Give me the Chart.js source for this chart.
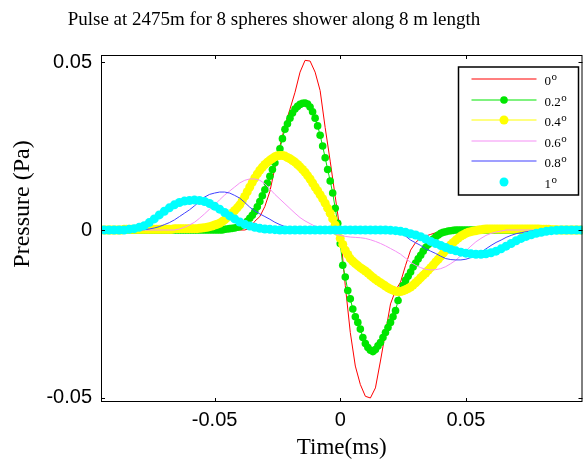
<!DOCTYPE html>
<html>
<head>
<meta charset="utf-8">
<script src="https://cdn.jsdelivr.net/npm/chart.js@4.4.0/dist/chart.umd.min.js"></script>
<style>
  html, body { margin: 0; padding: 0; background: #fff; }
</style>
</head>
<body>
<canvas id="pulse-chart" width="587" height="462"></canvas>
<script>
// Time axis (ms), one sample every 0.002 ms (line-only series)
const timeMs = [
  -0.096, -0.094, -0.092, -0.090, -0.088, -0.086, -0.084, -0.082, -0.080, -0.078,
  -0.076, -0.074, -0.072, -0.070, -0.068, -0.066, -0.064, -0.062, -0.060, -0.058,
  -0.056, -0.054, -0.052, -0.050, -0.048, -0.046, -0.044, -0.042, -0.040, -0.038,
  -0.036, -0.034, -0.032, -0.030, -0.028, -0.026, -0.024, -0.022, -0.020, -0.018,
  -0.016, -0.014, -0.012, -0.010, -0.008, -0.006, -0.004, -0.002, 0, 0.002,
  0.004, 0.006, 0.008, 0.010, 0.012, 0.014, 0.016, 0.018, 0.020, 0.022,
  0.024, 0.026, 0.028, 0.030, 0.032, 0.034, 0.036, 0.038, 0.040, 0.042,
  0.044, 0.046, 0.048, 0.050, 0.052, 0.054, 0.056, 0.058, 0.060, 0.062,
  0.064, 0.066, 0.068, 0.070, 0.072, 0.074, 0.076, 0.078, 0.080, 0.082,
  0.084, 0.086, 0.088, 0.090, 0.092, 0.094, 0.096
];

// Time axis (ms), one sample every 0.001 ms (series drawn with markers)
const timeMsFine = [
  -0.096, -0.095, -0.094, -0.093, -0.092, -0.091, -0.090, -0.089, -0.088, -0.087,
  -0.086, -0.085, -0.084, -0.083, -0.082, -0.081, -0.080, -0.079, -0.078, -0.077,
  -0.076, -0.075, -0.074, -0.073, -0.072, -0.071, -0.070, -0.069, -0.068, -0.067,
  -0.066, -0.065, -0.064, -0.063, -0.062, -0.061, -0.060, -0.059, -0.058, -0.057,
  -0.056, -0.055, -0.054, -0.053, -0.052, -0.051, -0.050, -0.049, -0.048, -0.047,
  -0.046, -0.045, -0.044, -0.043, -0.042, -0.041, -0.040, -0.039, -0.038, -0.037,
  -0.036, -0.035, -0.034, -0.033, -0.032, -0.031, -0.030, -0.029, -0.028, -0.027,
  -0.026, -0.025, -0.024, -0.023, -0.022, -0.021, -0.020, -0.019, -0.018, -0.017,
  -0.016, -0.015, -0.014, -0.013, -0.012, -0.011, -0.010, -0.009, -0.008, -0.007,
  -0.006, -0.005, -0.004, -0.003, -0.002, -0.001, 0, 0.001, 0.002, 0.003,
  0.004, 0.005, 0.006, 0.007, 0.008, 0.009, 0.010, 0.011, 0.012, 0.013,
  0.014, 0.015, 0.016, 0.017, 0.018, 0.019, 0.020, 0.021, 0.022, 0.023,
  0.024, 0.025, 0.026, 0.027, 0.028, 0.029, 0.030, 0.031, 0.032, 0.033,
  0.034, 0.035, 0.036, 0.037, 0.038, 0.039, 0.040, 0.041, 0.042, 0.043,
  0.044, 0.045, 0.046, 0.047, 0.048, 0.049, 0.050, 0.051, 0.052, 0.053,
  0.054, 0.055, 0.056, 0.057, 0.058, 0.059, 0.060, 0.061, 0.062, 0.063,
  0.064, 0.065, 0.066, 0.067, 0.068, 0.069, 0.070, 0.071, 0.072, 0.073,
  0.074, 0.075, 0.076, 0.077, 0.078, 0.079, 0.080, 0.081, 0.082, 0.083,
  0.084, 0.085, 0.086, 0.087, 0.088, 0.089, 0.090, 0.091, 0.092, 0.093,
  0.094, 0.095, 0.096
];

// Pressure (Pa) for each observation angle
const pressure0 = [
  0, 0, 0, 0, 0, 0, 0, 0, 0, 0,
  0, 0, 0, 0, 0, 0, 0, 0, 0, 0,
  0, 0, 0, 0, 0, 0, 0, 0, 0, 0,
  0.0005, 0.0026, 0.0040, 0.0070, 0.0115, 0.0185, 0.0250, 0.0310, 0.0360, 0.0410,
  0.0470, 0.0505, 0.0503, 0.0470, 0.0415, 0.0305, 0.0205, 0.0100, -0.0005, -0.0165,
  -0.0305, -0.0405, -0.0460, -0.0495, -0.0500, -0.0470, -0.0390, -0.0305, -0.0220, -0.0180,
  -0.0155, -0.0105, -0.0060, -0.0037, -0.0024, -0.0018, -0.0013, -0.0008, -0.0005, -0.0002,
  0, 0, 0, 0, 0, 0, 0, 0, 0, 0,
  0, 0, 0, 0, 0, 0, 0, 0, 0, 0,
  0, 0, 0, 0, 0, 0, 0
];
// fine grid
const pressure02 = [
  0, 0, 0, 0, 0, 0, 0, 0, 0, 0,
  0, 0, 0, 0, 0, 0, 0, 0, 0, 0,
  0, 0, 0, 0, 0, 0, 0, 0, 0, 0,
  0, 0, 0, 0, 0, 0, 0, 0, 0, 0,
  0, 0, 0, 0, 0, 0, 0, 0, 0, 0,
  0.0002, 0.0003, 0.0004, 0.0005, 0.0006, 0.0008, 0.0010, 0.0014, 0.0018, 0.0026,
  0.0035, 0.0044, 0.0055, 0.0069, 0.0085, 0.0102, 0.0120, 0.0140, 0.0160, 0.0180,
  0.0200, 0.0220, 0.0242, 0.0272, 0.0300, 0.0316, 0.0333, 0.0348, 0.0360, 0.0368,
  0.0374, 0.0377, 0.0378, 0.0375, 0.0366, 0.0352, 0.0333, 0.0310, 0.0282, 0.0250,
  0.0215, 0.0180, 0.0146, 0.0110, 0.0065, 0.0020, -0.0040, -0.0105, -0.0140, -0.0180,
  -0.0205, -0.0235, -0.0258, -0.0275, -0.0295, -0.0320, -0.0338, -0.0350, -0.0358, -0.0362,
  -0.0356, -0.0345, -0.0335, -0.0320, -0.0305, -0.0290, -0.0275, -0.0258, -0.0240, -0.0210,
  -0.0180, -0.0165, -0.0150, -0.0138, -0.0125, -0.0110, -0.0098, -0.0086, -0.0075, -0.0063,
  -0.0052, -0.0043, -0.0035, -0.0027, -0.0020, -0.0015, -0.0010, -0.0007, -0.0005, -0.0003,
  -0.0002, -0.0001, 0, 0, 0, 0, 0, 0, 0, 0,
  0, 0, 0, 0, 0, 0, 0, 0, 0, 0,
  0, 0, 0, 0, 0, 0, 0, 0, 0, 0,
  0, 0, 0, 0, 0, 0, 0, 0, 0, 0,
  0, 0, 0, 0, 0, 0, 0, 0, 0, 0,
  0, 0, 0
];
// fine grid
const pressure04 = [
  0, 0, 0, 0, 0, 0, 0, 0, 0, 0,
  0.0002, 0.0002, 0.0002, 0.0002, 0.0002, 0.0002, 0.0002, 0.0002, 0.0002, 0.0002,
  0.0002, 0.0002, 0.0002, 0.0002, 0.0002, 0.0002, 0.0002, 0.0002, 0.0002, 0.0002,
  0.0004, 0.0004, 0.0004, 0.0004, 0.0004, 0.0004, 0.0004, 0.0004, 0.0004, 0.0004,
  0.0005, 0.0006, 0.0007, 0.0008, 0.0010, 0.0012, 0.0015, 0.0017, 0.0020, 0.0025,
  0.0030, 0.0037, 0.0045, 0.0051, 0.0058, 0.0066, 0.0075, 0.0087, 0.0100, 0.0114,
  0.0128, 0.0142, 0.0155, 0.0167, 0.0178, 0.0187, 0.0195, 0.0202, 0.0208, 0.0213,
  0.0218, 0.0221, 0.0222, 0.0222, 0.0220, 0.0216, 0.0212, 0.0207, 0.0202, 0.0195,
  0.0188, 0.0180, 0.0172, 0.0162, 0.0152, 0.0140, 0.0128, 0.0117, 0.0105, 0.0093,
  0.0080, 0.0065, 0.0050, 0.0033, 0.0015, -0.0005, -0.0025, -0.0043, -0.0060, -0.0073,
  -0.0085, -0.0093, -0.0100, -0.0106, -0.0112, -0.0117, -0.0122, -0.0128, -0.0135, -0.0141,
  -0.0147, -0.0152, -0.0157, -0.0162, -0.0167, -0.0172, -0.0176, -0.0179, -0.0182, -0.0183,
  -0.0183, -0.0181, -0.0178, -0.0174, -0.0170, -0.0164, -0.0157, -0.0150, -0.0142, -0.0135,
  -0.0128, -0.0120, -0.0112, -0.0104, -0.0095, -0.0087, -0.0078, -0.0069, -0.0060, -0.0052,
  -0.0044, -0.0037, -0.0030, -0.0024, -0.0018, -0.0014, -0.0010, -0.0007, -0.0005, -0.0003,
  -0.0002, 0, 0.0001, 0.0002, 0.0003, 0.0003, 0.0003, 0.0003, 0.0003, 0.0003,
  0.0003, 0.0003, 0.0003, 0.0003, 0.0003, 0.0003, 0.0003, 0.0003, 0.0003, 0.0003,
  0.0003, 0.0003, 0.0003, 0.0003, 0.0003, 0.0003, 0.0002, 0.0002, 0.0002, 0.0002,
  0.0001, 0.0001, 0.0001, 0, 0, 0, 0, 0, 0, 0,
  0, 0, 0
];
const pressure06 = [
  0, 0, 0, 0, 0, 0, 0, 0, 0, 0,
  0, 0, 0, 0, 0, 0, 0.0003, 0.0008, 0.0015, 0.0023,
  0.0035, 0.0048, 0.0062, 0.0075, 0.0090, 0.0104, 0.0116, 0.0128, 0.0140, 0.0148,
  0.0152, 0.0152, 0.0148, 0.0138, 0.0122, 0.0106, 0.0092, 0.0078, 0.0064, 0.0050,
  0.0037, 0.0027, 0.0019, 0.0011, 0.0005, 0.0000, -0.0006, -0.0012, -0.0016, -0.0019,
  -0.0021, -0.0022, -0.0023, -0.0025, -0.0029, -0.0034, -0.0040, -0.0047, -0.0055, -0.0063,
  -0.0072, -0.0084, -0.0096, -0.0105, -0.0112, -0.0117, -0.0119, -0.0118, -0.0115, -0.0109,
  -0.0100, -0.0090, -0.0076, -0.0062, -0.0048, -0.0035, -0.0025, -0.0016, -0.0010, -0.0006,
  -0.0003, 0, 0, 0, 0, 0, 0, 0, 0, 0,
  0, 0, 0, 0, 0, 0, 0
];
const pressure08 = [
  0, 0, 0, 0, 0, 0, 0, 0, 0, 0.0001,
  0.0003, 0.0006, 0.0010, 0.0016, 0.0022, 0.0030, 0.0040, 0.0050, 0.0060, 0.0072,
  0.0085, 0.0098, 0.0106, 0.0110, 0.0113, 0.0113, 0.0110, 0.0103, 0.0095, 0.0082,
  0.0068, 0.0057, 0.0048, 0.0040, 0.0032, 0.0023, 0.0016, 0.0010, 0.0006, 0.0003,
  0.0001, 0, 0, 0, 0, 0, 0, 0, 0, 0,
  0, 0, 0, 0, 0, 0, 0, 0, 0, -0.0003,
  -0.0008, -0.0018, -0.0030, -0.0038, -0.0046, -0.0056, -0.0063, -0.0070, -0.0078, -0.0085,
  -0.0088, -0.0089, -0.0089, -0.0087, -0.0082, -0.0075, -0.0066, -0.0056, -0.0046, -0.0037,
  -0.0030, -0.0022, -0.0016, -0.0011, -0.0008, -0.0005, -0.0003, -0.0001, 0, 0,
  0, 0, 0, 0, 0, 0, 0
];
const pressure1 = [
  0, 0, 0, 0, 0, 0, 0.0002, 0.0004, 0.0008, 0.0013,
  0.0022, 0.0033, 0.0045, 0.0056, 0.0066, 0.0075, 0.0082, 0.0086, 0.0088, 0.0089,
  0.0088, 0.0085, 0.0079, 0.0071, 0.0062, 0.0052, 0.0042, 0.0033, 0.0024, 0.0017,
  0.0012, 0.0008, 0.0005, 0.0003, 0.0002, 0.0001, 0, 0, 0, 0,
  0, 0, 0, 0, 0, 0, 0, 0, 0, 0,
  0, 0, 0, 0, 0, 0, 0, 0, -0.0001, -0.0002,
  -0.0004, -0.0007, -0.0011, -0.0015, -0.0020, -0.0027, -0.0034, -0.0040, -0.0046, -0.0052,
  -0.0058, -0.0062, -0.0066, -0.0069, -0.0071, -0.0072, -0.0072, -0.0071, -0.0068, -0.0063,
  -0.0056, -0.0048, -0.0040, -0.0032, -0.0025, -0.0019, -0.0014, -0.0010, -0.0007, -0.0004,
  -0.0002, -0.0001, 0, 0, 0, 0, 0
];

const angleLabels = ['0', '0.2', '0.4', '0.6', '0.8', '1'];
const xTicks = [-0.05, 0, 0.05];
const xTickLabels = ['-0.05', '0', '0.05'];
const yTicks = [-0.05, 0, 0.05];
const yTickLabels = ['-0.05', '0', '0.05'];

const chartTitle = 'Pulse at 2475m for 8 spheres shower along 8 m length';
const yAxisTitle = 'Pressure (Pa)';
const xAxisTitle = 'Time(ms)';

function toPoints(times, values) {
    return times.map((t, i) => ({ x: t, y: values[i] }));
}

// frame with inward ticks, title, y label and the boxed legend (MATLAB look)
const matlabDecor = {
    id: 'matlabDecor',
    afterDatasetsDraw(chart) {
        const { ctx, chartArea: a, scales } = chart;
        ctx.save();
        ctx.strokeStyle = '#000';
        ctx.lineWidth = 1;
        ctx.strokeRect(a.left + 0.5, a.top + 0.5, a.right - a.left - 1, a.bottom - a.top - 1);
        ctx.beginPath();
        xTicks.forEach(v => {
            const px = Math.round(scales.x.getPixelForValue(v)) + 0.5;
            ctx.moveTo(px, a.bottom); ctx.lineTo(px, a.bottom - 4);
            ctx.moveTo(px, a.top); ctx.lineTo(px, a.top + 4);
        });
        yTicks.forEach(v => {
            const py = Math.round(scales.y.getPixelForValue(v)) + 0.5;
            ctx.moveTo(a.left, py); ctx.lineTo(a.left + 4, py);
            ctx.moveTo(a.right, py); ctx.lineTo(a.right - 4, py);
        });
        ctx.stroke();

        ctx.fillStyle = '#000';
        ctx.textAlign = 'center';
        ctx.textBaseline = 'alphabetic';
        ctx.font = '19px "Liberation Serif"';
        ctx.fillText(chartTitle, 274, 25);

        ctx.save();
        ctx.translate(23, 204);
        ctx.rotate(-Math.PI / 2);
        ctx.textBaseline = 'middle';
        ctx.font = '24px "Liberation Serif"';
        ctx.fillText(yAxisTitle, 0, 0);
        ctx.restore();

        // legend box
        const box = { left: a.right - 124, top: a.top + 12, width: 120, height: 128 };
        ctx.fillStyle = '#fff';
        ctx.fillRect(box.left, box.top, box.width, box.height);
        ctx.strokeStyle = '#000';
        ctx.lineWidth = 1.5;
        ctx.strokeRect(box.left, box.top, box.width, box.height);
        chart.data.datasets.forEach((ds, i) => {
            const rowY = Math.round(box.top + 12 + i * 20.5);
            const x0 = box.left + 13, x1 = box.left + 78;
            if (ds.showLine !== false) {
                ctx.strokeStyle = ds.borderColor;
                ctx.lineWidth = 1.2;
                ctx.beginPath();
                ctx.moveTo(x0, rowY); ctx.lineTo(x1, rowY);
                ctx.stroke();
            }
            if (ds.pointRadius > 0) {
                ctx.fillStyle = ds.pointBackgroundColor;
                ctx.beginPath();
                ctx.arc((x0 + x1) / 2, rowY, ds.pointRadius, 0, Math.PI * 2);
                ctx.fill();
            }
            ctx.fillStyle = '#000';
            ctx.textAlign = 'left';
            ctx.textBaseline = 'alphabetic';
            ctx.font = '13px "Liberation Serif"';
            ctx.fillText(angleLabels[i], box.left + 86, rowY + 6);
            const w = ctx.measureText(angleLabels[i]).width;
            ctx.font = '11px "Liberation Serif"';
            ctx.fillText('o', box.left + 86 + w + 0.5, rowY + 0.5);
        });
        ctx.restore();
    }
};

const ctx = document.getElementById('pulse-chart').getContext('2d');

new Chart(ctx, {
    type: 'line',
    data: {
        datasets: [
            { label: angleLabels[0], data: toPoints(timeMs, pressure0), borderColor: '#ff0000', borderWidth: 1,
              pointRadius: 0, order: 5 },
            { label: angleLabels[1], data: toPoints(timeMsFine, pressure02), borderColor: '#00e600', borderWidth: 1,
              pointRadius: 3.8, pointBackgroundColor: '#00e600', pointBorderWidth: 0, order: 4 },
            { label: angleLabels[2], data: toPoints(timeMsFine, pressure04), borderColor: '#ffff00', borderWidth: 1,
              pointRadius: 4.5, pointBackgroundColor: '#ffff00', pointBorderWidth: 0, order: 3 },
            { label: angleLabels[3], data: toPoints(timeMs, pressure06), borderColor: '#f590f5', borderWidth: 1,
              pointRadius: 0, order: 2 },
            { label: angleLabels[4], data: toPoints(timeMs, pressure08), borderColor: '#4040ff', borderWidth: 1,
              pointRadius: 0, order: 1 },
            { label: angleLabels[5], data: toPoints(timeMs, pressure1), borderColor: '#00ffff', showLine: false,
              pointRadius: 4.5, pointBackgroundColor: '#00ffff', pointBorderWidth: 0, order: 0 },
        ],
    },
    options: {
        responsive: false,
        animation: false,
        devicePixelRatio: 1,
        clip: 0,
        layout: { padding: { top: 55, right: 1, left: 0, bottom: 0 } },
        plugins: {
            legend: { display: false },
            title: { display: false },
            tooltip: { enabled: false },
        },
        elements: { line: { tension: 0 } },
        scales: {
            x: {
                type: 'linear',
                min: -0.0952,
                max: 0.0964,
                grid: { display: false, drawTicks: false },
                border: { display: false },
                afterBuildTicks: scale => { scale.ticks = xTicks.map(v => ({ value: v })); },
                afterFit: scale => { scale.height = 60; },
                ticks: {
                    color: '#000',
                    padding: 6,
                    maxRotation: 0,
                    font: { family: 'Liberation Sans', size: 20 },
                    callback: value => xTickLabels[xTicks.indexOf(value)],
                },
                title: {
                    display: true,
                    text: xAxisTitle,
                    color: '#000',
                    padding: 0,
                    font: { family: 'Liberation Serif', size: 23 },
                },
            },
            y: {
                type: 'linear',
                min: -0.0512,
                max: 0.0521,
                grid: { display: false, drawTicks: false },
                border: { display: false },
                afterBuildTicks: scale => { scale.ticks = yTicks.map(v => ({ value: v })); },
                afterFit: scale => { scale.width = 101; },
                ticks: {
                    color: '#000',
                    padding: 9,
                    font: { family: 'Liberation Sans', size: 20 },
                    callback: value => yTickLabels[yTicks.indexOf(value)],
                },
            },
        },
    },
    plugins: [matlabDecor],
});
</script>
</body>
</html>
